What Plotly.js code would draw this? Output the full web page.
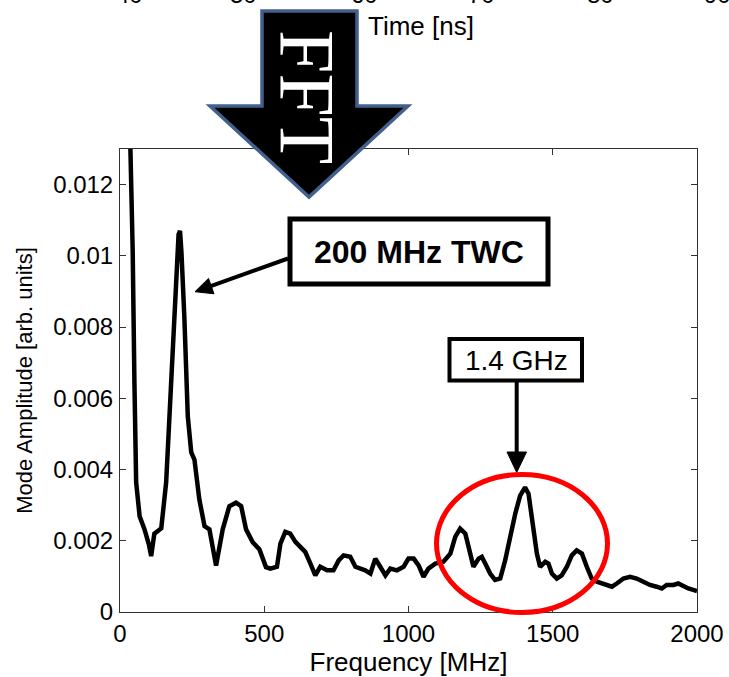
<!DOCTYPE html>
<html>
<head>
<meta charset="utf-8">
<script src="https://cdn.plot.ly/plotly-3.0.1.min.js"></script>
<style>
  html, body { margin: 0; padding: 0; background: #fff; }
  #chart { width: 729px; height: 677px; }
</style>
</head>
<body>
<div id="chart"></div>
<script>
// ---- data ----
const frequencyMHz = [30, 36, 44, 50, 56, 68, 85, 100, 108, 119, 130, 143, 160, 183, 198, 203, 208, 213, 223, 235, 247, 258, 275, 293, 310, 333, 356, 379, 402, 420, 437, 460, 483, 506, 521, 544, 556, 573, 590, 608, 625, 642, 660, 677, 694, 718, 740, 758, 775, 798, 816, 833, 850, 868, 885, 902, 920, 937, 960, 983, 1000, 1018, 1035, 1052, 1069, 1093, 1121, 1145, 1162, 1179, 1197, 1214, 1225, 1243, 1254, 1266, 1283, 1300, 1318, 1335, 1352, 1370, 1387, 1404, 1416, 1428, 1445, 1456, 1474, 1485, 1497, 1514, 1531, 1549, 1566, 1583, 1601, 1618, 1635, 1653, 1670, 1687, 1705, 1722, 1745, 1768, 1791, 1814, 1837, 1860, 1878, 1895, 1918, 1935, 1953, 1970, 1987, 2000];
const modeAmplitude = [0.0152, 0.0130, 0.01015, 0.00643, 0.00364, 0.00269, 0.00232, 0.0019, 0.00157, 0.0022, 0.00228, 0.00235, 0.00364, 0.00736, 0.0098, 0.0106, 0.0107, 0.0101, 0.00829, 0.00549, 0.00448, 0.00428, 0.00316, 0.00241, 0.00232, 0.0013, 0.00232, 0.00297, 0.00307, 0.00297, 0.00232, 0.00196, 0.00176, 0.00126, 0.00122, 0.00127, 0.00192, 0.00225, 0.0022, 0.00197, 0.00183, 0.00169, 0.00136, 0.00103, 0.00127, 0.00117, 0.00117, 0.00145, 0.00159, 0.00155, 0.00127, 0.00122, 0.00117, 0.00108, 0.0015, 0.00127, 0.00103, 0.00122, 0.00117, 0.00127, 0.0015, 0.0015, 0.00131, 0.00099, 0.00122, 0.00136, 0.00141, 0.00164, 0.00211, 0.00234, 0.0022, 0.00164, 0.00127, 0.0015, 0.00155, 0.00136, 0.00108, 0.0009, 0.00094, 0.00145, 0.00211, 0.00276, 0.00327, 0.0035, 0.00332, 0.00257, 0.00164, 0.00127, 0.00141, 0.00136, 0.00108, 0.00094, 0.00103, 0.00127, 0.00159, 0.00173, 0.00164, 0.00127, 0.00094, 0.00085, 0.0008, 0.00076, 0.00071, 0.0008, 0.00094, 0.00099, 0.00094, 0.00085, 0.00076, 0.00071, 0.00066, 0.00076, 0.00076, 0.0008, 0.00071, 0.00066, 0.00062, 0.00059];

const xTickVals = [0, 500, 1000, 1500, 2000];
const xTickText = ["0", "500", "1000", "1500", "2000"];
const yTickVals = [0, 0.002, 0.004, 0.006, 0.008, 0.01, 0.012];
const yTickText = ["0", "0.002", "0.004", "0.006", "0.008", "0.01", "0.012"];

const xTitle = "Frequency [MHz]";
const yTitle = "Mode Amplitude [arb. units]";
const fftLabel = "FFT";
const twcLabel = "200 MHz TWC";
const ghzLabel = "1.4 GHz";
const timeLabel = "Time [ns]";
const timeTickLabels = ["40", "50", "60", "70", "80", "90"];

// ---- layout geometry (pixels -> paper) ----
const W = 729, H = 677;
const M = { l: 120, r: 32, t: 149, b: 65 };
const PW = W - M.l - M.r, PH = H - M.t - M.b;
const px = x => (x - M.l) / PW;
const py = y => (H - M.b - y) / PH;
const pt = (x, y) => px(x).toFixed(5) + "," + py(y).toFixed(5);

const font = "Liberation Sans, Arial, Helvetica, sans-serif";

const shapes = [];
const annotations = [];

// FFT big arrow
shapes.push({
  type: "path", xref: "paper", yref: "paper", layer: "above",
  path: "M" + pt(262, 11) + " L" + pt(357, 11) + " L" + pt(357, 106) + " L" + pt(408, 106) +
        " L" + pt(309, 197) + " L" + pt(210, 106) + " L" + pt(262, 106) + " Z",
  fillcolor: "#000000",
  line: { color: "#41618c", width: 3.5 }
});
annotations.push({
  xref: "paper", yref: "paper", x: px(308), y: py(97), xanchor: "center", yanchor: "middle",
  text: fftLabel, textangle: 90, showarrow: false,
  font: { family: "Liberation Serif, Times New Roman, serif", size: 78, color: "#ffffff" }
});

// 200 MHz TWC box + arrow
shapes.push({
  type: "rect", xref: "paper", yref: "paper", layer: "above",
  x0: px(290), x1: px(548), y0: py(219), y1: py(284),
  fillcolor: "#ffffff", line: { color: "#000000", width: 5 }
});
annotations.push({
  xref: "paper", yref: "paper", x: px(419), y: py(252), xanchor: "center", yanchor: "middle",
  text: "<b>" + twcLabel + "</b>", showarrow: false,
  font: { family: font, size: 32, color: "#000000" }
});
shapes.push({
  type: "line", xref: "paper", yref: "paper", layer: "above",
  x0: px(288), y0: py(258.5), x1: px(210), y1: py(286.3),
  line: { color: "#000000", width: 4 }
});
shapes.push({
  type: "path", xref: "paper", yref: "paper", layer: "above",
  path: "M" + pt(195, 291.7) + " L" + pt(214, 293.8) + " L" + pt(208.5, 278.4) + " Z",
  fillcolor: "#000000", line: { color: "#000000", width: 1 }
});

// 1.4 GHz box + arrow
shapes.push({
  type: "rect", xref: "paper", yref: "paper", layer: "above",
  x0: px(449.5), x1: px(582), y0: py(339), y1: py(380.5),
  fillcolor: "#ffffff", line: { color: "#000000", width: 4 }
});
annotations.push({
  xref: "paper", yref: "paper", x: px(516), y: py(360), xanchor: "center", yanchor: "middle",
  text: ghzLabel, showarrow: false,
  font: { family: font, size: 28, color: "#000000" }
});
shapes.push({
  type: "line", xref: "paper", yref: "paper", layer: "above",
  x0: px(516.7), y0: py(382), x1: px(516.7), y1: py(455),
  line: { color: "#000000", width: 4 }
});
shapes.push({
  type: "path", xref: "paper", yref: "paper", layer: "above",
  path: "M" + pt(507, 452) + " L" + pt(526.5, 452) + " L" + pt(516.7, 472.5) + " Z",
  fillcolor: "#000000", line: { color: "#000000", width: 1 }
});

// red ellipse
shapes.push({
  type: "circle", xref: "paper", yref: "paper", layer: "above",
  x0: px(436.5), x1: px(607.5), y0: py(474.5), y1: py(612.5),
  line: { color: "#ff0000", width: 5 }
});

// remnants of the upper (time) plot
annotations.push({
  xref: "paper", yref: "paper", x: px(421), y: py(26), xanchor: "center", yanchor: "middle",
  text: timeLabel, showarrow: false,
  font: { family: font, size: 26, color: "#000000" }
});
const timeTickX = [129, 243.5, 364, 481.5, 600, 717];
timeTickLabels.forEach((t, i) => {
  annotations.push({
    xref: "paper", yref: "paper", x: px(timeTickX[i]), y: py(10), xanchor: "center", yanchor: "bottom",
    text: t, showarrow: false,
    font: { family: font, size: 24, color: "#000000" }
  });
});

const trace = {
  x: frequencyMHz, y: modeAmplitude, type: "scatter", mode: "lines",
  line: { color: "#000000", width: 4.5 },
  hoverinfo: "skip"
};

const axisCommon = {
  showgrid: false, zeroline: false, showline: true, linecolor: "#333333", linewidth: 1,
  mirror: "ticks", ticks: "inside", ticklen: 6, tickwidth: 1, tickcolor: "#333333",
  tickfont: { family: font, size: 24, color: "#000000" }, automargin: false
};

const layout = {
  width: W, height: H,
  margin: { l: M.l, r: M.r, t: M.t, b: M.b, pad: 0 },
  paper_bgcolor: "#ffffff", plot_bgcolor: "#ffffff",
  showlegend: false,
  xaxis: Object.assign({}, axisCommon, {
    range: [0, 2000], tickmode: "array", tickvals: xTickVals, ticktext: xTickText,
    ticklabelstandoff: 0,
    title: { text: xTitle, font: { family: font, size: 26, color: "#000000" }, standoff: 9 }
  }),
  yaxis: Object.assign({}, axisCommon, {
    range: [0, 0.013], tickmode: "array", tickvals: yTickVals, ticktext: yTickText,
    ticklabelstandoff: 1,
    title: { text: yTitle, font: { family: font, size: 22, color: "#000000" }, standoff: 14 }
  }),
  shapes: shapes,
  annotations: annotations
};

Plotly.newPlot("chart", [trace], layout, { staticPlot: true, displayModeBar: false });
</script>
</body>
</html>
